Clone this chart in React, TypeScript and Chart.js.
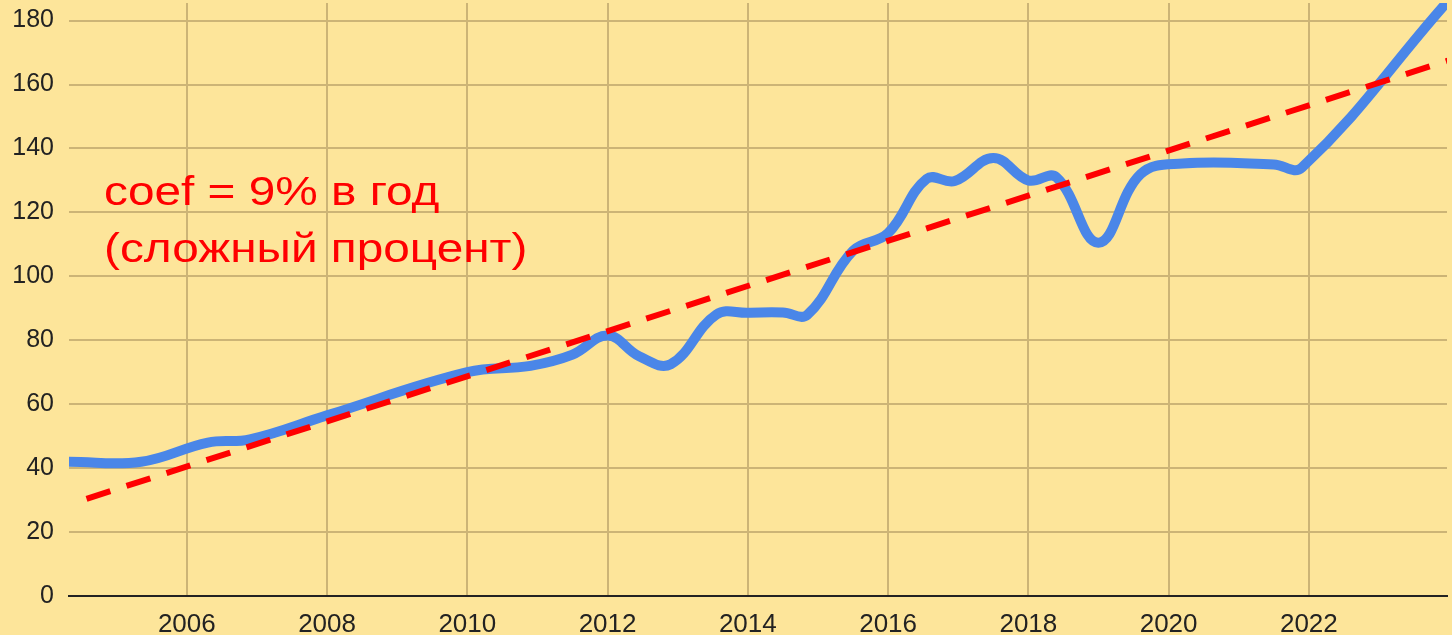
import React, { useEffect, useRef } from "react";
import { Chart, registerables } from "chart.js";

Chart.register(...registerables);

// Blue series: year (fractional) and value
const priceYears = [
  2004.32, 2005.35, 2006.3, 2006.9, 2008.0, 2010.0, 2010.9, 2011.5, 2012.0, 2012.45,
  2012.9, 2013.55, 2014.0, 2014.5, 2014.85, 2015.5, 2016.0, 2016.55, 2016.95, 2017.5,
  2018.0, 2018.4, 2019.0, 2019.6, 2020.2, 2021.5, 2021.9, 2023.92,
];
const priceValues = [
  42, 42, 48, 49, 56.5, 70, 72, 75.5, 81.5, 75,
  72.5, 88, 88.6, 88.7, 88, 108, 113.5, 130.5, 129.8, 137,
  130, 131, 110.5, 132, 135.3, 135, 134, 184.5,
];

// Trend line (red dashed)
const trendYears = [2004.57, 2024.0];
const trendValues = [30.4, 167.6];

const xTicks = [2006, 2008, 2010, 2012, 2014, 2016, 2018, 2020, 2022];
const yTicks = [0, 20, 40, 60, 80, 100, 120, 140, 160, 180];

const annotationLines = ["coef = 9% в год", "(сложный процент)"];

const BG = "#FDE59A";
const GRID = "rgb(204,180,118)";
const FONT = "'Liberation Sans', Arial, sans-serif";

export default function App() {
  const ref = useRef<HTMLCanvasElement | null>(null);

  useEffect(() => {
    document.body.style.margin = "0";
    document.body.style.background = BG;
    const canvas = ref.current;
    if (!canvas) return;

    const annotationPlugin = {
      id: "annot",
      beforeDraw(chart: any) {
        const { ctx } = chart;
        ctx.save();
        ctx.fillStyle = BG;
        ctx.fillRect(0, 0, chart.width, chart.height);
        ctx.restore();
      },
      beforeDatasetsDraw(chart: any) {
        const { ctx } = chart;
        ctx.save();
        ctx.fillStyle = "#FF0000";
        ctx.font = `41px ${FONT}`;
        ctx.textBaseline = "alphabetic";
        ctx.textAlign = "left";
        ctx.translate(104, 0);
        ctx.scale(1.165, 1);
        ctx.fillText(annotationLines[0], 0, 205);
        ctx.fillText(annotationLines[1], 0, 262);
        ctx.restore();
      },
    };

    const chart = new Chart(canvas, {
      type: "line",
      data: {
        datasets: [
          {
            label: "trend",
            data: trendYears.map((x, i) => ({ x, y: trendValues[i] })),
            borderColor: "#FF0000",
            borderWidth: 6,
            borderDash: [25, 17],
            pointRadius: 0,
            tension: 0,
            fill: false,
          },
          {
            label: "price",
            data: priceYears.map((x, i) => ({ x, y: priceValues[i] })),
            borderColor: "#4A86E8",
            borderWidth: 10,
            borderCapStyle: "round",
            borderJoinStyle: "round",
            pointRadius: 0,
            tension: 0.4,
            fill: false,
          },
        ],
      },
      options: {
        animation: false,
        responsive: false,
        maintainAspectRatio: false,
        layout: { padding: { top: 3, right: 5, left: 0, bottom: 0 } },
        plugins: {
          legend: { display: false },
          tooltip: { enabled: false },
          title: { display: false },
        },
        scales: {
          x: {
            type: "linear",
            min: 2004.32,
            max: 2023.97,
            afterBuildTicks: (s: any) => {
              s.ticks = xTicks.map((v) => ({ value: v }));
            },
            afterFit: (s: any) => {
              s.height = 39;
              s.paddingLeft = 0;
              s.paddingRight = 0;
            },
            ticks: {
              callback: (v: any) => String(v),
              font: { family: FONT, size: 26 },
              color: "#222222",
              padding: 13,
              maxRotation: 0,
              autoSkip: false,
            },
            grid: { color: GRID, lineWidth: 2, drawTicks: false },
            border: { display: true, color: "#222222", width: 2 },
          },
          y: {
            type: "linear",
            min: 0,
            max: 185.5,
            afterBuildTicks: (s: any) => {
              s.ticks = yTicks.map((v) => ({ value: v }));
            },
            afterFit: (s: any) => {
              s.width = 69;
              s.paddingTop = 0;
              s.paddingBottom = 0;
            },
            ticks: {
              callback: (v: any) => String(v),
              font: { family: FONT, size: 25 },
              color: "#222222",
              padding: 15,
            },
            grid: { color: GRID, lineWidth: 2, drawTicks: false },
            border: { display: false },
          },
        },
      },
      plugins: [annotationPlugin],
    });

    return () => chart.destroy();
  }, []);

  return (
    <div
      style={{
        position: "fixed",
        left: 0,
        top: 0,
        width: 1452,
        height: 635,
        overflow: "hidden",
        background: BG,
      }}
    >
      <canvas ref={ref} width={1452} height={635} style={{ display: "block" }} />
    </div>
  );
}
